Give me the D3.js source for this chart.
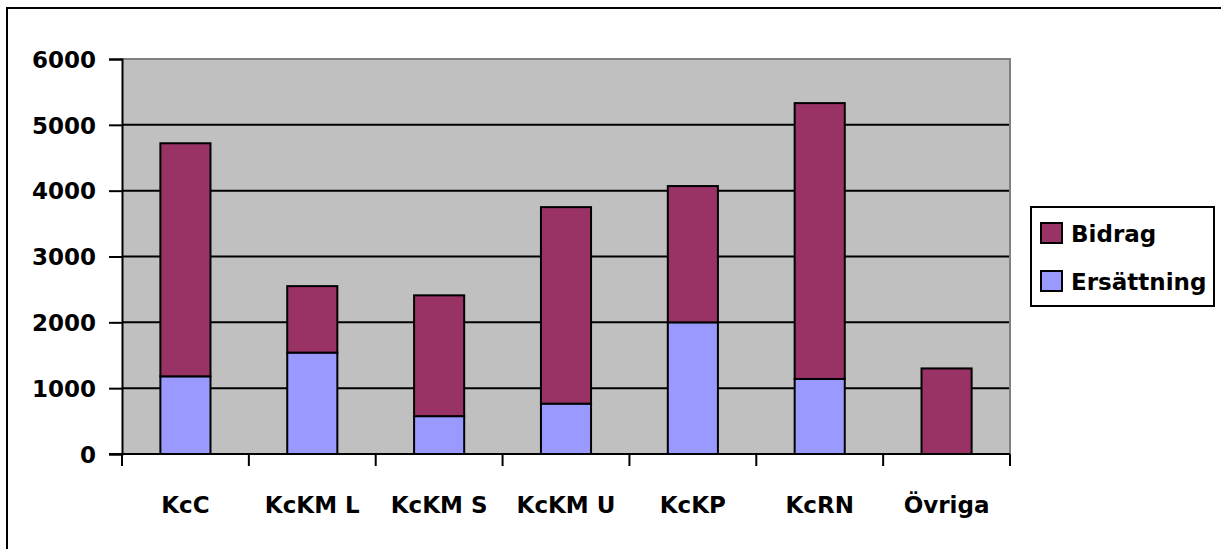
<!DOCTYPE html>
<html>
<head>
<meta charset="utf-8">
<script src="https://cdn.jsdelivr.net/npm/d3@7"></script>
<style>
  html, body { margin: 0; padding: 0; background: #fff; }
  svg { display: block; }
  text { font-family: "DejaVu Sans", sans-serif; font-weight: bold; fill: #000; }
</style>
</head>
<body>
<svg id="chart" width="1221" height="549"></svg>
<script>
// Categories (units) and the two stacked series
const categories = ["KcC", "KcKM L", "KcKM S", "KcKM U", "KcKP", "KcRN", "Övriga"];
const ersattning = [1180, 1540, 575, 765, 2000, 1140, 0];
const bidrag     = [3540, 1010, 1835, 2985, 2070, 4190, 1300];
const seriesNames = ["Ersättning", "Bidrag"];
const yTicks = [0, 1000, 2000, 3000, 4000, 5000, 6000];

const colors = { "Ersättning": "#9999FF", "Bidrag": "#993366" };

const svg = d3.select("#chart");
const W = 1221, H = 549;

// Chart frame
svg.append("rect")
  .attr("x", 7).attr("y", 8)
  .attr("width", W + 10).attr("height", H + 10)
  .attr("fill", "#fff").attr("stroke", "#000").attr("stroke-width", 2);

const plot = { left: 122, top: 59, right: 1010, bottom: 454 };

const x = d3.scaleBand()
  .domain(categories)
  .range([plot.left, plot.right])
  .paddingInner(0.605)
  .paddingOuter(0.3025);

const xBoundary = d3.scaleBand().domain(categories).range([plot.left, plot.right]);

const y = d3.scaleLinear().domain([0, 6000]).range([plot.bottom, plot.top]);

// Plot area background
svg.append("rect")
  .attr("x", plot.left).attr("y", plot.top)
  .attr("width", plot.right - plot.left).attr("height", plot.bottom - plot.top)
  .attr("fill", "#C0C0C0");

// Horizontal gridlines
svg.append("g")
  .selectAll("line")
  .data(yTicks.filter(v => v > 0 && v < 6000))
  .join("line")
  .attr("x1", plot.left).attr("x2", plot.right)
  .attr("y1", d => y(d)).attr("y2", d => y(d))
  .attr("stroke", "#000").attr("stroke-width", 2);

// Plot area border (top and right)
svg.append("path")
  .attr("d", `M${plot.left},${y(6000)}H${plot.right}V${plot.bottom}`)
  .attr("fill", "none").attr("stroke", "#808080").attr("stroke-width", 2);

// Stacked bars
const rows = categories.map((c, i) => ({ cat: c, "Ersättning": ersattning[i], "Bidrag": bidrag[i] }));
const stacked = d3.stack().keys(seriesNames)(rows);

svg.append("g")
  .selectAll("g")
  .data(stacked)
  .join("g")
  .attr("fill", d => colors[d.key])
  .selectAll("rect")
  .data(d => d.filter(s => s[1] - s[0] > 0))
  .join("rect")
  .attr("x", d => x(d.data.cat))
  .attr("width", x.bandwidth())
  .attr("y", d => y(d[1]))
  .attr("height", d => y(d[0]) - y(d[1]))
  .attr("stroke", "#000").attr("stroke-width", 2);

// Y axis
const yAxis = svg.append("g")
  .attr("transform", `translate(${plot.left},0)`)
  .call(d3.axisLeft(y).tickValues(yTicks).tickSize(13).tickPadding(13).tickFormat(d3.format("d")));
yAxis.select(".domain").attr("stroke", "#000").attr("stroke-width", 2);
yAxis.selectAll(".tick line").attr("stroke", "#000").attr("stroke-width", 2);
yAxis.selectAll(".tick text")
  .style("font-size", "23px").attr("dy", "0.36em")
  .style("font-family", "'DejaVu Sans', sans-serif").style("font-weight", "bold");

// X axis: ticks at the category boundaries, labels at the centres
const bounds = categories.map(c => xBoundary(c)).concat([plot.right]);
const xAxis = svg.append("g");
xAxis.append("line")
  .attr("x1", plot.left - 13).attr("x2", plot.right)
  .attr("y1", plot.bottom).attr("y2", plot.bottom)
  .attr("stroke", "#000").attr("stroke-width", 2);
xAxis.selectAll("line.bt")
  .data(bounds)
  .join("line").attr("class", "bt")
  .attr("x1", d => d).attr("x2", d => d)
  .attr("y1", plot.bottom).attr("y2", plot.bottom + 12)
  .attr("stroke", "#000").attr("stroke-width", 2);
xAxis.selectAll("text")
  .data(categories)
  .join("text")
  .attr("x", d => xBoundary(d) + xBoundary.bandwidth() / 2)
  .attr("y", 513)
  .attr("text-anchor", "middle")
  .style("font-size", "23px")
  .text(d => d);

// Legend
const legend = svg.append("g");
legend.append("rect")
  .attr("x", 1031).attr("y", 207).attr("width", 183).attr("height", 99)
  .attr("fill", "#fff").attr("stroke", "#000").attr("stroke-width", 2);
const legendItems = ["Bidrag", "Ersättning"];
const li = legend.selectAll("g.item")
  .data(legendItems)
  .join("g").attr("class", "item")
  .attr("transform", (d, i) => `translate(1041,${223 + i * 48})`);
li.append("rect")
  .attr("width", 21).attr("height", 20)
  .attr("fill", d => colors[d]).attr("stroke", "#000").attr("stroke-width", 2);
li.append("text")
  .attr("x", 30).attr("y", 19)
  .style("font-size", "23px")
  .text(d => d);
</script>
</body>
</html>
